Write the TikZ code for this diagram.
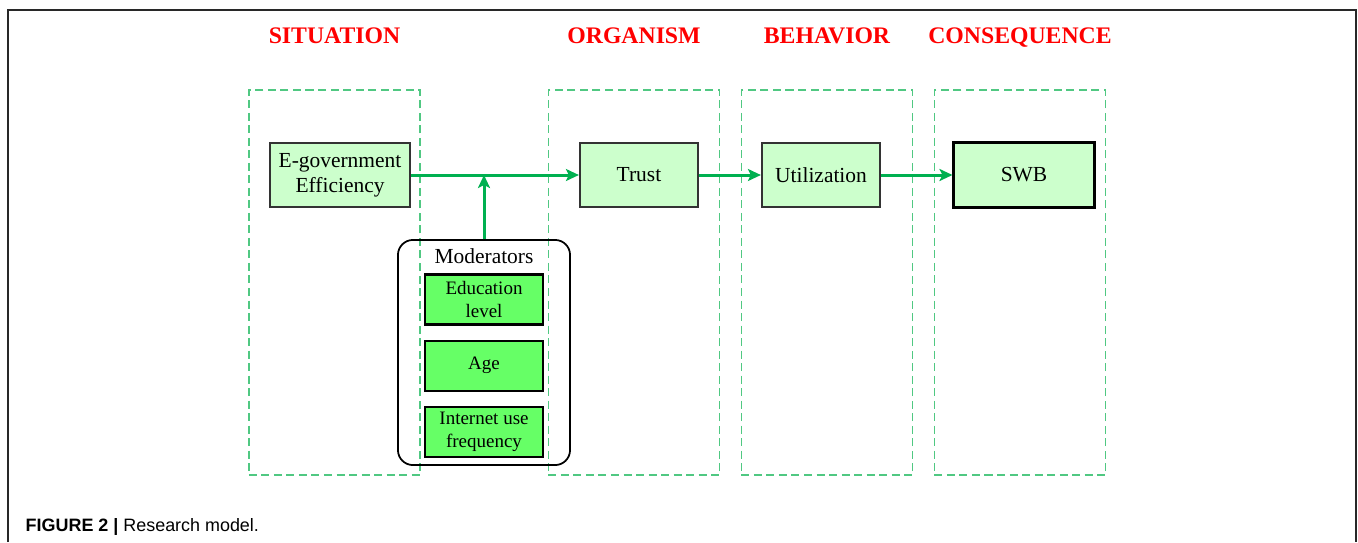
\documentclass[tikz,border=0pt]{standalone}
\usepackage{fontspec}
\setmainfont{Liberation Serif}
\setsansfont{Liberation Sans}
\usetikzlibrary{arrows.meta, positioning, backgrounds}
\definecolor{stagecolor}{RGB}{80,200,130}
\definecolor{flowcolor}{RGB}{0,176,80}
\definecolor{conceptcolor}{RGB}{204,255,204}
\definecolor{modcolor}{RGB}{102,255,102}
\definecolor{titlecolor}{RGB}{255,0,0}
\definecolor{framecolor}{RGB}{40,40,40}

\begin{document}
\begin{tikzpicture}[
    x=0.01cm, y=-0.01cm,
    >={Stealth[length=1.3mm, width=1.2mm, inset=0.3mm]},
    every node/.style={font=\fontsize{6.1}{7.1}\selectfont},
    stagebox/.style={rectangle, draw=stagecolor, dash pattern=on 0.08cm off 0.045cm,
        line width=0.5pt, minimum width=1.71cm, minimum height=3.85cm, inner sep=0pt},
    stagetitle/.style={font=\fontsize{6.75}{8}\selectfont\bfseries, text=titlecolor,
        anchor=base},
    conceptbox/.style={rectangle, draw=black!80, fill=conceptcolor, line width=0.6pt,
        minimum width=#1, minimum height=0.64cm, align=center, inner sep=0pt},
    conceptbox/.default=1.18cm,
    modbox/.style={rectangle, draw=black, fill=modcolor, line width=0.6pt,
        minimum width=1.18cm, minimum height=0.5cm, align=center, inner sep=0pt,
        font=\fontsize{5.4}{6.5}\selectfont},
    groupbox/.style={rectangle, draw=black, rounded corners=0.15cm, line width=0.5pt,
        minimum width=1.72cm, minimum height=2.25cm, inner sep=0pt},
    arrow/.style={->, flowcolor, line width=0.85pt},
]
\useasboundingbox (0,0) rectangle (1358,542);

% === FRAME ===
\coordinate (frame_bl) at (8,542);
\coordinate (frame_tr) at (1356,10);
\coordinate (frame_br) at (1356,542);
\draw[framecolor, line width=0.45pt] (frame_bl) |- (frame_tr) -- (frame_br);

% === STAGES ===
\node[stagebox] (sit_box) at (334.5,282.5) {};
\node[stagebox] (org_box) at (634,282.5) {};
\node[stagebox] (beh_box) at (827,282.5) {};
\node[stagebox] (con_box) at (1020,282.5) {};

\node[stagetitle] (sit_title) at (334.5,43.5) {SITUATION};
\node[stagetitle] (org_title) at (634,43.5) {ORGANISM};
\node[stagetitle] (beh_title) at (827,43.5) {BEHAVIOR};
\node[stagetitle] (con_title) at (1020,43.5) {CONSEQUENCE};

% === CONSTRUCTS ===
\node[conceptbox=1.4cm] (egov) at (340,175) {E-government\\Efficiency};
\node[conceptbox] (trust) at (639,175) {Trust};
\node[conceptbox] (util) at (821,175) {Utilization};
\node[conceptbox=1.4cm, line width=0.85pt, draw=black] (swb) at (1024,175) {SWB};

% === MODERATORS ===
\node[groupbox] (mods) at (484,352.5) {};
\node[anchor=base] (mod_lbl) at (484,263) {Moderators};
\node[modbox] (edu) at (484,299.5) {Education\\level};
\node[modbox, below=0.14cm of edu] (age) {Age};
\node[modbox, below=0.14cm of age] (net) {Internet use\\frequency};

% === ARROWS ===
\draw[arrow] (egov) -- (trust);
\draw[arrow] (trust) -- (util);
\draw[arrow] (util) -- (swb);

\coordinate (modjoin) at (mods.north |- egov.east);
\draw[arrow] (mods.north) -- (modjoin);

% === CAPTION ===
\node[font=\sffamily\fontsize{5.1}{6.2}\selectfont, anchor=base west, inner sep=0pt]
    (caption) at (25,531) {\textbf{FIGURE 2 |} Research model.};

\end{tikzpicture}
\end{document}
